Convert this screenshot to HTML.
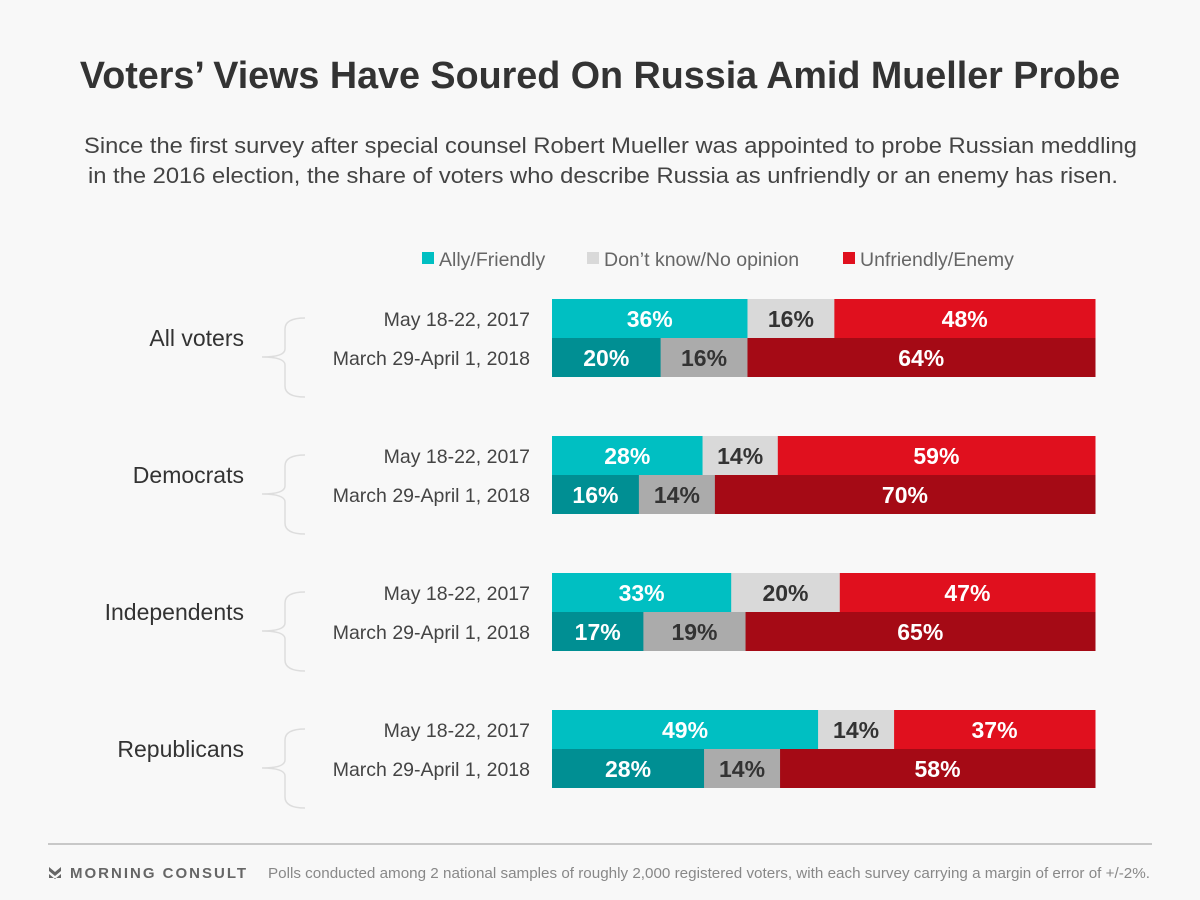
<!DOCTYPE html>
<html><head><meta charset="utf-8"><style>
body{margin:0;background:#f8f8f8;font-family:"Liberation Sans",sans-serif;}
#wrap{position:relative;width:1200px;height:900px;overflow:hidden;}
</style></head><body>
<div id="wrap">
<svg id="chart" width="1200" height="900">
<text x="600" y="88" text-anchor="middle" font-size="37.7" font-weight="bold" fill="#333">Voters’ Views Have Soured On Russia Amid Mueller Probe</text>
<text x="84" y="153" font-size="22.5" fill="#444" textLength="1053" lengthAdjust="spacingAndGlyphs">Since the first survey after special counsel Robert Mueller was appointed to probe Russian meddling</text>
<text x="88" y="183" font-size="22.5" fill="#444" textLength="1030" lengthAdjust="spacingAndGlyphs">in the 2016 election, the share of voters who describe Russia as unfriendly or an enemy has risen.</text>
<g>
<rect x="422" y="252" width="12" height="12" fill="#00bfc2"/>
<text x="439" y="266" font-size="19.5" fill="#666">Ally/Friendly</text>
<rect x="587" y="252" width="12" height="12" fill="#d9d9d9"/>
<text x="604" y="266" font-size="19.5" fill="#666">Don’t know/No opinion</text>
<rect x="843" y="252" width="12" height="12" fill="#e0101e"/>
<text x="860" y="266" font-size="19.5" fill="#666">Unfriendly/Enemy</text>
</g>
<g id="bars"></g>
<line x1="48" y1="844" x2="1152" y2="844" stroke="#999" stroke-width="1"/>
<path d="M49 867 l6 5 l6 -5 v4 l-6 5 l-6 -5z M49 874 l6 5 l6 -5 v4 h-12z" fill="#666"/>
<text x="70" y="878" font-size="15" font-weight="bold" fill="#666" letter-spacing="2">MORNING CONSULT</text>
<text x="268" y="878" font-size="15" fill="#888" textLength="882" lengthAdjust="spacingAndGlyphs">Polls conducted among 2 national samples of roughly 2,000 registered voters, with each survey carrying a margin of error of +/-2%.</text>
</svg>
</div>
<script>
const groups = ["All voters","Democrats","Independents","Republicans"];
const dates = ["May 18-22, 2017","March 29-April 1, 2018"];
const ally = [[36,20],[28,16],[33,17],[49,28]];
const dontKnow = [[16,16],[14,14],[20,19],[14,14]];
const enemy = [[48,64],[59,70],[47,65],[37,58]];
const NS="http://www.w3.org/2000/svg";
const g=document.getElementById('bars');
const x0=552,W=543,barH=39,groupY0=299,groupStep=137;
const colors=[["#00bfc2","#d9d9d9","#e0101e"],["#008f93","#ababab","#a50a15"]];
const textCol=["#fff","#333","#fff"];
const keys=["ally","dontknow","enemy"];
function el(t,a){const e=document.createElementNS(NS,t);for(const k in a)e.setAttribute(k,a[k]);return e;}
groups.forEach((grp,gi)=>{
  const gy=groupY0+gi*groupStep;
  const lab=el('text',{x:244,y:gy+47,'text-anchor':'end','font-size':23,fill:'#333'});
  lab.textContent=grp;
  
  
  g.appendChild(lab);
  const br=el('path',{d:`M305 ${gy+19} Q285 ${gy+19} 285 ${gy+30} V${gy+50} Q285 ${gy+58} 262 ${gy+58} Q285 ${gy+58} 285 ${gy+66} V${gy+87} Q285 ${gy+98} 305 ${gy+98}`,fill:'none',stroke:'#ddd','stroke-width':1.5});
  
  
  g.appendChild(br);
  for(let r=0;r<2;r++){
    const y=gy+r*barH;
    const dl=el('text',{x:530,y:y+27,'text-anchor':'end','font-size':19.5,fill:'#444'});
    dl.textContent=dates[r];
    
    
    g.appendChild(dl);
    const vals=[ally[gi][r],dontKnow[gi][r],enemy[gi][r]];
    const tot=vals.reduce((a,b)=>a+b,0);
    let cx=x0;
    vals.forEach((v,i)=>{
      const w=v/tot*W;
      const rc=el('rect',{x:cx,y:y,width:w+0.5,height:barH,fill:colors[r][i]});
      
      
      g.appendChild(rc);
      const t=el('text',{x:cx+w/2,y:y+28,'text-anchor':'middle','font-size':23,'font-weight':'bold',fill:textCol[i]});
      t.textContent=v+'%';
      
      
      g.appendChild(t);
      cx+=w;
    });
  }
});
</script>
</body></html>
